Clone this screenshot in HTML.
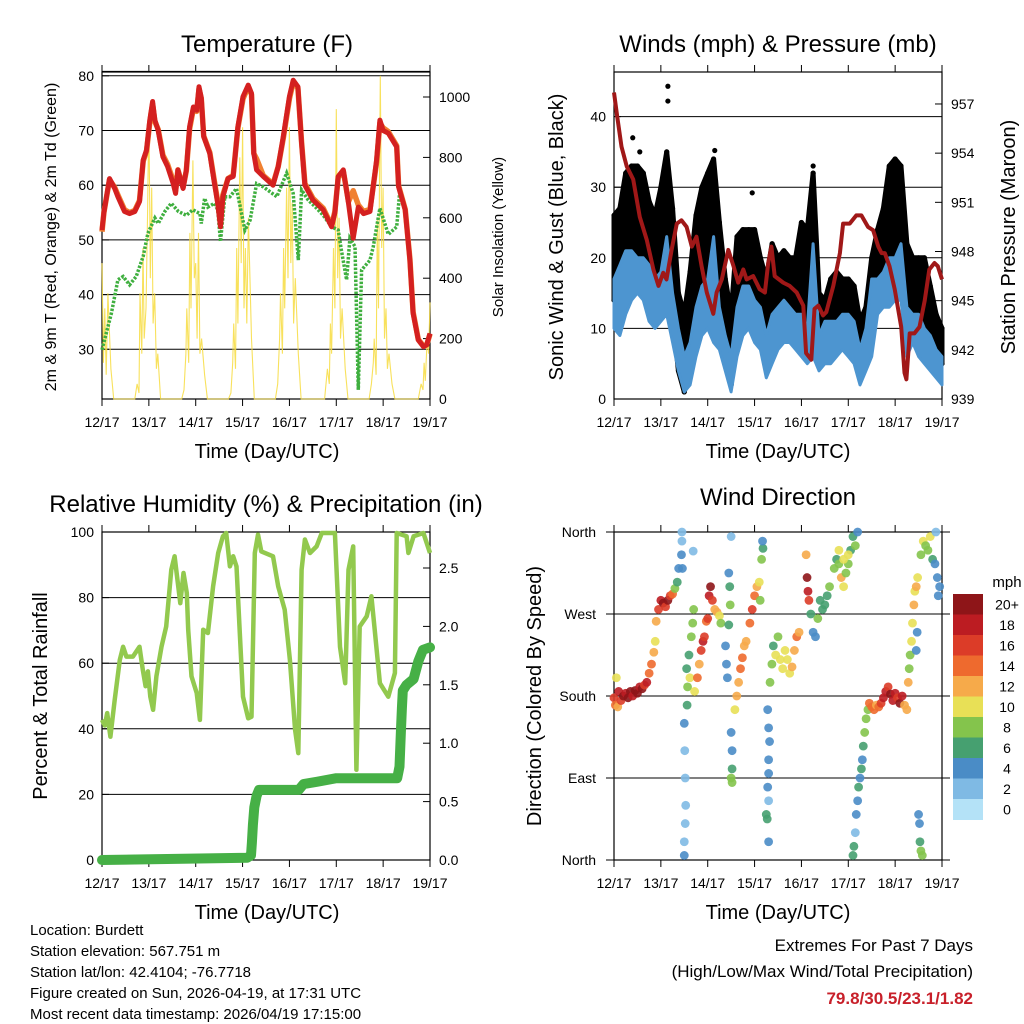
<!DOCTYPE html>
<html><head><meta charset="utf-8"><style>
html,body{margin:0;padding:0;background:#fff}
svg{display:block;font-family:"Liberation Sans",Arial,sans-serif}
</style></head><body>
<svg id="root" width="1024" height="1024" viewBox="0 0 1024 1024" xmlns="http://www.w3.org/2000/svg">
<rect x="0" y="0" width="1024" height="1024" fill="#fff"/>
<text x="267" y="52" font-size="24" text-anchor="middle">Temperature (F)</text>
<text x="778" y="52" font-size="24" text-anchor="middle">Winds (mph) &amp; Pressure (mb)</text>
<text x="266" y="512" font-size="24" text-anchor="middle">Relative Humidity (%) &amp; Precipitation (in)</text>
<text x="778" y="505" font-size="24" text-anchor="middle">Wind Direction</text>
<text x="267" y="458" font-size="20" text-anchor="middle">Time (Day/UTC)</text>
<text x="778" y="458" font-size="20" text-anchor="middle">Time (Day/UTC)</text>
<text x="267" y="919" font-size="20" text-anchor="middle">Time (Day/UTC)</text>
<text x="778" y="919" font-size="20" text-anchor="middle">Time (Day/UTC)</text>
<text transform="translate(56,237) rotate(-90)" font-size="16" text-anchor="middle">2m &amp; 9m T (Red, Orange) &amp; 2m Td (Green)</text>
<text transform="translate(503,237) rotate(-90)" font-size="15" text-anchor="middle">Solar Insolation (Yellow)</text>
<text transform="translate(563,237) rotate(-90)" font-size="20" text-anchor="middle">Sonic Wind &amp; Gust (Blue, Black)</text>
<text transform="translate(1015,237) rotate(-90)" font-size="20" text-anchor="middle">Station Pressure (Maroon)</text>
<text transform="translate(47,696) rotate(-90)" font-size="20" text-anchor="middle">Percent &amp; Total Rainfall</text>
<text transform="translate(541,696) rotate(-90)" font-size="20" text-anchor="middle">Direction (Colored By Speed)</text>
<g font-size="15">
<text x="30" y="935">Location: Burdett</text>
<text x="30" y="956">Station elevation: 567.751 m</text>
<text x="30" y="977">Station lat/lon: 42.4104; -76.7718</text>
<text x="30" y="998">Figure created on Sun, 2026-04-19, at 17:31 UTC</text>
<text x="30" y="1019">Most recent data timestamp: 2026/04/19 17:15:00</text>
</g>
<text x="973" y="951" font-size="17" text-anchor="end">Extremes For Past 7 Days</text>
<text x="973" y="977" font-size="17" text-anchor="end">(High/Low/Max Wind/Total Precipitation)</text>
<text x="973" y="1004" font-size="17" font-weight="bold" fill="#c8202a" text-anchor="end">79.8/30.5/23.1/1.82</text>
<text x="1007" y="587" font-size="15" text-anchor="middle">mph</text>
</svg>
<script>
// ---------- DATA ----------
const dayLabels=["12/17","13/17","14/17","15/17","16/17","17/17","18/17","19/17"];
const tempTicks=[30,40,50,60,70,80];
const solarTicks=[0,200,400,600,800,1000];
const windTicks=[0,10,20,30,40];
const presTicks=[939,942,945,948,951,954,957];
const rhTicks=[0,20,40,60,80,100];
const precipTicks=[0.0,0.5,1.0,1.5,2.0,2.5];
const dirTicks=[0,90,180,270,360];
const dirNames=["North","East","South","West","North"];

const tempT=[0,0.04,0.16,0.27,0.34,0.48,0.59,0.70,0.8,0.88,0.95,1.02,1.08,1.13,1.2,1.3,1.4,1.52,1.57,1.62,1.73,1.8,1.87,1.95,2.02,2.07,2.12,2.17,2.3,2.4,2.47,2.53,2.58,2.69,2.8,2.9,3.01,3.12,3.19,3.24,3.3,3.44,3.65,3.76,3.87,4.0,4.08,4.18,4.26,4.33,4.5,4.72,4.9,4.97,5.04,5.15,5.26,5.36,5.47,5.58,5.72,5.86,5.93,6.0,6.11,6.29,6.33,6.47,6.57,6.64,6.75,6.86,6.93,7.0];
const tempRed=[51.8,55,61.2,59.4,57.9,55.2,54.8,55.2,57,64.6,66.4,71.9,75.3,71.9,70,65.2,63.4,60.3,58.5,62.8,59.4,62.8,70.7,74.3,73.7,78,76,68.9,65.8,60.3,56.7,52.4,57.9,61.2,61.6,70.7,76.2,78.3,76.8,65.8,62.8,61.6,60,63.4,68.9,76.2,79.2,78,67.6,60,57.3,55.5,52.4,55,61.6,62.8,56.7,50.3,56,54.8,55.2,64.6,71.9,70,69.5,67,59.7,55.5,46.3,36.6,31.7,30.5,30.8,32.9];
const tempOrange=[51.5,55,61,59.6,58.2,55.5,55,55.4,57.2,64.4,66.2,71.5,74.8,71.6,70.2,65.5,63.8,60.8,59,62.8,59.6,62.6,70.3,74,73.5,77.6,75.8,69,66,60.6,57,53,58.2,61.2,61.8,70.5,75.8,78,76.6,65.8,64.8,61.8,60.2,63.4,68.6,75.8,78.8,77.8,67.8,60.3,57.6,55.8,52.6,55.2,61.4,62.6,57,59,56.4,55.2,55.6,64.2,71.4,70.5,69.8,67.2,59.9,55.6,46.5,36.8,31.8,30.6,30.8,32.8];
const tdT=[0,0.09,0.2,0.34,0.45,0.59,0.73,0.88,0.98,1.13,1.2,1.34,1.48,1.63,1.8,1.94,2.09,2.12,2.19,2.26,2.4,2.47,2.53,2.62,2.73,2.87,3.05,3.16,3.3,3.44,3.73,3.94,4.08,4.19,4.26,4.4,4.58,4.72,4.9,5.04,5.11,5.22,5.29,5.4,5.47,5.54,5.72,5.79,5.93,6.11,6.29,6.36,6.47,6.57,6.64,6.75,6.86,7.0];
const tdVal=[29.9,32.9,36.6,42.7,43.3,41.8,43.3,47,51.2,54,53,55.2,56.7,55.2,54.5,55.5,54.8,53,57.6,56,56.7,55.5,49.7,57.9,57.9,59.4,51.8,53.6,60.3,59.7,57.9,62.2,58.5,46.3,59.1,57.3,55.8,54.5,52.4,51.8,48.1,42.7,50.3,48.8,22.6,44.5,46.3,48.8,55.8,51,52.4,59.4,55.5,46.3,36.6,31.7,30.5,31.7];
const solarT=[0,0.03,0.06,0.09,0.125,0.19,0.25,0.7,0.75,0.79,0.81,0.85,0.875,0.9,0.94,0.97,1.0,1.03,1.06,1.09,1.125,1.16,1.19,1.25,1.7,1.75,1.79,1.81,1.85,1.875,1.9,1.94,1.97,2.0,2.03,2.06,2.09,2.125,2.19,2.25,2.7,2.75,2.79,2.81,2.85,2.875,2.9,2.94,2.97,3.0,3.03,3.06,3.09,3.125,3.19,3.25,3.7,3.75,3.79,3.81,3.85,3.875,3.9,3.94,3.97,4.0,4.03,4.06,4.09,4.125,4.19,4.25,4.7,4.75,4.81,4.85,4.875,4.9,4.94,4.97,5.0,5.03,5.06,5.09,5.125,5.19,5.25,5.7,5.75,5.79,5.81,5.85,5.875,5.9,5.94,5.97,6.0,6.03,6.06,6.09,6.125,6.19,6.25,6.7,6.75,6.81,6.85,6.875,6.9,6.94,6.97,7.0];
const solarV=[450,120,300,80,350,100,0,0,50,20,350,150,500,200,300,600,950,400,700,250,350,100,150,0,0,30,150,300,120,550,300,790,400,450,200,550,150,200,80,0,0,20,120,250,100,500,250,800,450,900,300,500,250,600,200,0,0,50,200,350,150,500,300,700,400,900,450,650,250,400,150,0,0,0,100,50,250,150,500,300,960,400,600,200,300,100,0,0,50,120,200,80,600,300,1070,500,700,200,300,100,150,50,0,0,0,50,30,120,60,200,150,320];

const windT=[0,0.125,0.25,0.375,0.5,0.625,0.75,0.875,1,1.125,1.25,1.375,1.5,1.625,1.75,1.875,2,2.125,2.25,2.375,2.5,2.625,2.75,2.875,3,3.125,3.25,3.375,3.5,3.625,3.75,3.875,4,4.125,4.25,4.375,4.5,4.625,4.75,4.875,5,5.125,5.25,5.375,5.5,5.625,5.75,5.875,6,6.125,6.25,6.375,6.5,6.625,6.75,6.875,7];
const windLow=[10,9,12,14,15,14,11,10,11,12,8,4,1,2,6,9,10,8,7,4,1,6,9,10,8,7,3,5,7,8,8,7,6,5,6,4,5,5,6,7,6,5,2,4,6,12,13,13,14,14,6,8,6,5,4,3,2];
const windHigh=[17,19,21,21,20,20,19,17,18,23,15,10,6,8,13,16,17,23,13,9,6,13,16,16,14,13,9,12,13,14,13,12,12,10,22,9,11,11,11,12,12,11,7,10,17,17,18,20,20,22,13,12,12,10,9,7,6];
const gustLow=[14,15,20,22,20,20,17,15,17,16,12,4,1,5,12,15,17,13,10,5,2,11,14,14,12,10,6,9,10,11,11,11,12,9,8,6,6,7,9,10,9,8,4,5,8,15,17,19,20,17,10,11,9,8,6,5,5];
const gustHigh=[26,27,32,33,33,32,28,26,30,35,27,15,12,18,26,30,32,34,25,17,12,23,24,24,24,20,17,22,20,21,20,20,25,24,32,15,14,17,18,17,17,16,11,13,20,24,27,33,34,33,22,20,20,20,16,12,10];
const gustOutT=[1.15,1.15,0.4,2.95,5.68,4.25,0.55,2.15];
const gustOutV=[44.3,42.2,37,29.2,23.4,33,35,35.2];
const presT=[0,0.07,0.16,0.27,0.41,0.55,0.7,0.84,0.95,1.05,1.12,1.23,1.34,1.44,1.55,1.66,1.76,1.87,1.98,2.12,2.19,2.3,2.44,2.55,2.65,2.76,2.83,2.97,3.11,3.22,3.29,3.36,3.43,3.61,3.75,3.9,4.04,4.1,4.21,4.28,4.36,4.46,4.53,4.68,4.82,4.89,5.03,5.17,5.28,5.42,5.53,5.64,5.71,5.78,5.88,5.99,6.13,6.2,6.24,6.31,6.41,6.52,6.63,6.73,6.84,6.91,7];
const presV=[957.7,956.2,954.4,953.2,952.4,950.1,948.7,946.9,945.9,946.7,946.3,948.1,949.7,949.9,949.5,948.3,948.9,947.1,945.5,944.2,945.5,946.3,948.1,947.1,946.1,946.9,946.3,946.5,945.7,945.5,947.3,948.3,946.5,946.1,945.9,945.5,944.7,941.8,941.4,944.5,944.7,944.1,944.3,945.9,947.9,949.7,949.7,950.2,950.2,949.5,949.3,948.3,947.9,947.9,947.1,945.7,943.4,940.6,940.2,943,943,943.4,945,946.9,947.3,947.1,946.3];

const rhT=[0,0.06,0.11,0.18,0.27,0.38,0.45,0.52,0.66,0.8,0.87,0.93,0.98,1.03,1.09,1.16,1.27,1.37,1.48,1.55,1.67,1.74,1.81,1.84,1.91,2.02,2.09,2.16,2.26,2.37,2.48,2.58,2.65,2.73,2.8,2.87,2.94,3.01,3.12,3.19,3.26,3.33,3.4,3.65,3.76,3.9,4.01,4.12,4.19,4.26,4.33,4.44,4.58,4.69,4.97,5.08,5.19,5.26,5.36,5.43,5.5,5.65,5.75,5.82,5.93,6.11,6.25,6.29,6.5,6.54,6.65,6.86,7.0];
const rhV=[42.7,41,44.8,37.6,48.8,61,65,62,62,65,58,53,57.5,49.8,45.8,56,65,71.2,88.5,92.6,78.3,87.5,81.4,70.2,56,50.9,42.7,70.2,69.2,83.4,93.6,98.7,99.7,89.5,92.6,89.5,69.2,49.8,43.2,43.7,93.6,99.2,94.1,92.6,83.4,76.3,61,39.7,32.6,88.5,97.7,93.6,95.6,99.7,99.7,65,53.9,88.5,95.6,27.5,71.2,74.3,80.4,70.2,53.9,49.8,57,99.7,98.7,93.6,98.7,99.7,93.6];
const precipT=[0,3.1,3.18,3.2,3.22,3.25,3.3,3.35,4.2,4.3,4.6,5.0,6.3,6.35,6.38,6.4,6.42,6.5,6.65,6.75,6.85,7.0];
const precipV=[0,0.02,0.04,0.15,0.3,0.45,0.55,0.6,0.6,0.65,0.67,0.7,0.7,0.8,1.1,1.3,1.45,1.5,1.55,1.7,1.8,1.82];

const dirT=[0,0.03,0.05,0.08,0.1,0.15,0.2,0.25,0.3,0.35,0.4,0.45,0.5,0.55,0.6,0.65,0.7,0.75,0.8,0.85,0.88,0.9,0.95,1.0,1.05,1.1,1.15,1.2,1.25,1.3,1.35,1.38,1.45,1.45,1.44,1.46,1.69,1.5,1.51,1.52,1.53,1.52,1.5,1.5,1.55,1.57,1.6,1.62,1.65,1.68,1.7,1.72,1.56,1.78,1.82,1.86,1.9,1.93,1.97,2.0,2.03,2.06,2.1,2.15,2.2,2.25,2.28,2.38,2.4,2.42,2.45,2.47,2.48,2.45,2.5,2.52,2.52,2.5,2.52,2.5,2.58,2.62,2.66,2.7,2.74,2.78,2.82,2.9,2.95,3.0,3.05,3.1,3.12,3.15,3.18,3.17,3.28,3.3,3.32,3.3,3.3,3.28,3.3,3.25,3.27,3.3,3.33,3.37,3.4,3.45,3.5,3.55,3.6,3.65,3.7,3.75,3.8,3.85,3.9,3.95,4.12,4.14,4.16,4.1,4.2,4.25,4.3,4.35,4.4,4.45,4.5,4.55,4.6,4.7,4.75,4.8,4.85,4.9,4.95,5.0,5.05,5.1,5.15,5.2,4.8,4.9,5.0,5.1,5.12,5.15,5.17,5.2,5.22,5.25,5.28,5.3,5.32,5.35,5.38,5.42,5.45,5.5,5.55,5.6,5.65,5.7,5.75,5.8,5.85,5.9,5.95,6.0,6.05,6.1,6.15,6.2,6.25,6.28,6.3,6.32,6.35,6.37,6.4,6.42,6.45,6.48,6.47,6.45,6.5,6.52,6.53,6.55,6.58,6.55,6.6,6.65,6.7,6.75,6.8,6.85,6.87,6.9,6.95,6.92];
const dirV=[178,170,200,168,185,175,180,183,178,185,180,186,183,190,188,192,195,205,215,228,240,262,275,285,282,278,285,290,292,298,305,320,360,350,335,320,339,150,120,90,60,40,20,5,210,190,225,200,245,260,275,185,170,200,215,230,240,245,262,265,290,300,285,275,272,268,260,235,215,200,315,300,280,258,140,120,100,90,85,355,165,180,195,210,222,235,240,260,275,290,300,305,285,330,342,350,165,145,130,110,95,80,65,50,45,20,195,215,235,225,245,220,210,230,220,205,212,230,245,250,310,295,285,335,270,250,245,265,285,275,280,290,300,320,330,325,310,300,315,325,340,355,345,360,340,330,335,5,15,30,50,65,80,90,100,110,125,140,155,165,172,168,165,170,168,172,178,185,190,182,175,183,178,172,180,170,165,195,210,225,240,260,280,295,300,310,250,230,50,40,20,10,5,335,350,345,340,355,330,325,360,310,300,290];
const dirS=[16,14,10,12,18,16,20,18,20,20,18,20,20,18,20,16,18,14,14,12,10,12,16,18,20,16,20,16,14,8,6,4,2,2,4,4,2,4,2,2,2,2,2,4,6,8,6,10,8,8,8,10,6,14,12,16,18,16,14,16,18,20,16,12,12,10,8,4,4,4,4,6,8,6,4,4,6,8,8,2,10,12,12,14,14,12,12,14,16,14,12,10,8,8,6,4,4,4,4,4,4,4,2,6,6,4,8,8,6,10,8,10,10,10,10,10,12,12,14,12,20,18,16,12,6,4,4,8,6,6,6,6,8,8,6,8,12,10,8,8,6,6,8,4,10,10,10,6,6,2,4,4,6,4,6,4,6,8,8,8,14,14,14,12,14,16,18,18,16,20,18,18,16,20,18,12,12,12,8,8,10,10,12,10,12,10,4,4,4,4,6,8,8,8,10,8,8,10,6,4,2,4,4,4];
const speedBins=["0","2","4","6","8","10","12","14","16","18","20+"];
const speedColors=["#b4e2f7","#7fbae4","#4a8cc6","#46a070","#84c44c","#e8e056","#f6aa4a","#ee6a2e","#dc3c28","#bc1c22","#8e1518"];

// ---------- HELPERS ----------
const NS="http://www.w3.org/2000/svg";
const root=document.getElementById('root');
function mk(tag,attrs,parent){const e=document.createElementNS(NS,tag);for(const k in attrs)e.setAttribute(k,attrs[k]);(parent||root).appendChild(e);return e;}
function grp(name){const g=mk('g',{});


return g;}
function pts(ts,vs,xf,yf){return ts.map((t,i)=>xf(t).toFixed(1)+','+yf(vs[i]).toFixed(1)).join(' ');}

function frame(name,L,R,T,B,xf){
  const g=grp(name+'-axes');
  const box=mk('rect',{x:L,y:T,width:R-L,height:B-T,fill:'none',stroke:'#000','stroke-width':1.2},g);
  
  
  dayLabels.forEach((lab,i)=>{
    const x=xf(i);
    const tk=mk('line',{x1:x,x2:x,y1:B,y2:B+7,stroke:'#000','stroke-width':1},g);
    
    
    const tt=mk('line',{x1:x,x2:x,y1:T-7,y2:T,stroke:'#000','stroke-width':1},g);
    
    
    const tx=mk('text',{x:x,y:B+28,'font-size':14,'text-anchor':'middle'},g);
    tx.textContent=lab;
    
    
  });
  return g;
}
function yAxis(g,ticks,yf,x,side,fmt,grid,L,R){
  ticks.forEach(v=>{
    const y=yf(v);
    if(grid){const gl=mk('line',{x1:L,x2:R,y1:y,y2:y,stroke:'#000','stroke-width':1},g);
    
    }
    const tk=mk('line',{x1:x,x2:side==='l'?x+7:x-7,y1:y,y2:y,stroke:'#000','stroke-width':1},g);
    
    
    const t=mk('text',{x:side==='l'?x-8:x+9,y:y+5,'font-size':14,'text-anchor':side==='l'?'end':'start'},g);
    t.textContent=fmt(v);
    
    
  });
}

// ---------- PANEL 1: TEMPERATURE ----------
(function(){
  const L=102,R=430,T=72,B=399;
  const xf=t=>L+t*(R-L)/7, yT=v=>349.3-(v-30)*5.47, yS=s=>B-s*0.302;
  const g=frame('temperature',L,R,T,B,xf);
  yAxis(g,tempTicks,yT,L,'l',v=>v,true,L,R);
  yAxis(g,solarTicks,yS,R,'r',v=>v,false,L,R);
  const top=mk('line',{x1:L,x2:R,y1:yT(80.8),y2:yT(80.8),stroke:'#000'},g);
  
  
  const s=mk('polyline',{points:pts(solarT,solarV,xf,yS),fill:'none',stroke:'#f7dc40','stroke-width':1.1,'stroke-opacity':0.85});
  
  
  const td=mk('polyline',{points:pts(tdT,tdVal,xf,yT),fill:'none',stroke:'#3faf3f','stroke-width':3.5,'stroke-dasharray':'2.5 1.5'});
  
  
  const o=mk('polyline',{points:pts(tempT,tempOrange,xf,yT),fill:'none',stroke:'#f08030','stroke-width':5.5,'stroke-linejoin':'round'});
  
  
  const r=mk('polyline',{points:pts(tempT,tempRed,xf,yT),fill:'none',stroke:'#d42020','stroke-width':5,'stroke-linejoin':'round'});
  
  
})();

// ---------- PANEL 2: WINDS ----------
(function(){
  const L=614,R=942,T=72,B=399;
  const xf=t=>L+t*(R-L)/7, yW=v=>B-v*7.06, yP=p=>B-(p-939)*16.39;
  const g=frame('winds',L,R,T,B,xf);
  yAxis(g,windTicks,yW,L,'l',v=>v,true,L,R);
  yAxis(g,presTicks,yP,R,'r',v=>v,false,L,R);
  const gp=pts(windT,gustHigh,xf,yW)+' '+pts(windT.slice().reverse(),gustLow.slice().reverse(),xf,yW);
  const gb=mk('polygon',{points:gp,fill:'#000',stroke:'#000','stroke-width':5,'stroke-linejoin':'round'});
  
  
  windT.forEach((t,i)=>{
    const c=mk('circle',{cx:xf(t),cy:yW(gustHigh[i]),r:2.6,fill:'#000'});
    
    
    const c2=mk('circle',{cx:xf(t),cy:yW(gustLow[i]),r:2.6,fill:'#000'});
    
    
  });
  gustOutT.forEach((t,i)=>{
    const c=mk('circle',{cx:xf(t),cy:yW(gustOutV[i]),r:2.6,fill:'#000'});
    
    
  });
  const wp=pts(windT,windHigh,xf,yW)+' '+pts(windT.slice().reverse(),windLow.slice().reverse(),xf,yW);
  const wb=mk('polygon',{points:wp,fill:'#4d95d0',stroke:'#4d95d0','stroke-width':3,'stroke-linejoin':'round'});
  
  
  const p=mk('polyline',{points:pts(presT,presV,xf,yP),fill:'none',stroke:'#a01818','stroke-width':4,'stroke-linejoin':'round'});
  
  
})();

// ---------- PANEL 3: RH & PRECIP ----------
(function(){
  const L=102,R=430,T=532,B=860;
  const xf=t=>L+t*(R-L)/7, yR=v=>B-v*3.28, yP=p=>B-p*116.8;
  const g=frame('humidity',L,R,T,B,xf);
  yAxis(g,rhTicks,yR,L,'l',v=>v,true,L,R);
  yAxis(g,precipTicks,yP,R,'r',v=>v.toFixed(1),false,L,R);
  const rh=mk('polyline',{points:pts(rhT,rhV,xf,yR),fill:'none',stroke:'#92c94e','stroke-width':4.5,'stroke-linejoin':'round'});
  
  
  const pr=mk('polyline',{points:pts(precipT,precipV,xf,yP),fill:'none',stroke:'#46b046','stroke-width':10,'stroke-linejoin':'round','stroke-linecap':'round'});
  
  
})();

// ---------- PANEL 4: WIND DIRECTION ----------
(function(){
  const L=614,R=942,T=532,B=860;
  const xf=t=>L+t*(R-L)/7, yD=d=>B-d/360*328;
  const g=frame('direction',L,R,T,B,xf);
  dirTicks.forEach((d,i)=>{
    const y=yD(d);
    const gl=mk('line',{x1:L-8,x2:R+8,y1:y,y2:y,stroke:'#000','stroke-width':1},g);
    
    
    const t=mk('text',{x:L-18,y:y+5,'font-size':14,'text-anchor':'end'},g);
    t.textContent=dirNames[i];
    
    
  });
  dirT.forEach((t,i)=>{
    const bin=Math.min(10,Math.floor(dirS[i]/2));
    const c=mk('circle',{cx:xf(t),cy:yD(dirV[i]),r:4.4,fill:speedColors[bin],'fill-opacity':0.9});
    
    
  });
  const cb=grp('speed-colorbar');
  const top=594,h=20.5;
  speedBins.forEach((lab,i)=>{
    const k=10-i;
    const r=mk('rect',{x:953,y:top+i*h,width:30,height:h+0.5,fill:speedColors[k]},cb);
    
    
    const t=mk('text',{x:1007,y:top+i*h+h/2+5,'font-size':14,'text-anchor':'middle'},cb);
    t.textContent=speedBins[k];
    
    
  });
})();
</script>
</body></html>
